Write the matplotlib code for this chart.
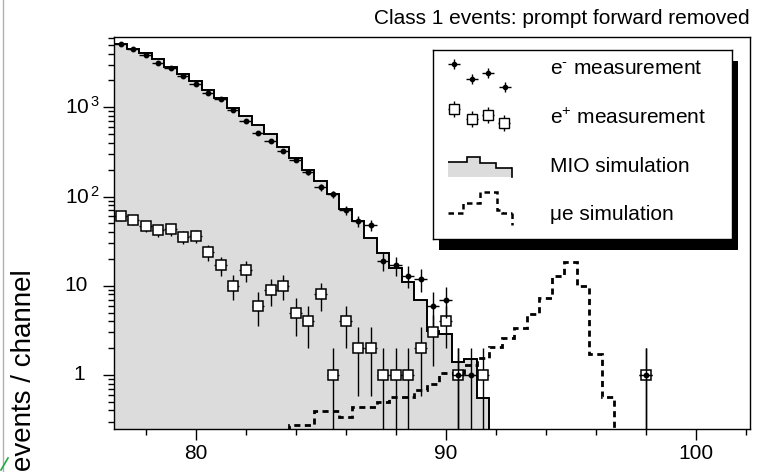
import numpy as np
import matplotlib
matplotlib.use('Agg')
import matplotlib.pyplot as plt
from matplotlib.transforms import ScaledTranslation, blended_transform_factory
from matplotlib.patches import Rectangle
from matplotlib.lines import Line2D
from matplotlib.ticker import FixedLocator, MultipleLocator, LogLocator, NullFormatter

plt.rcParams['font.family'] = ['Liberation Sans', 'DejaVu Sans']
plt.rcParams['mathtext.fontset'] = 'custom'
plt.rcParams['mathtext.rm'] = 'Liberation Sans'
plt.rcParams['mathtext.it'] = 'Liberation Sans:italic'
plt.rcParams['mathtext.bf'] = 'Liberation Sans:bold'

# ---------------- data ----------------
BIN = 0.5
mio_centers = [77.0, 77.5, 78.0, 78.5, 79.0, 79.5, 80.0, 80.5, 81.0, 81.5,
               82.0, 82.5, 83.0, 83.5, 84.0, 84.5, 85.0, 85.5, 86.0, 86.5,
               87.0, 87.5, 88.0, 88.5, 89.0, 89.5, 90.0, 90.5, 91.0, 91.5]
mio_counts = [5090, 4550, 4110, 3460, 2810, 2350, 1960, 1580, 1270, 984,
              801, 631, 496, 360, 272, 198, 149, 108, 72, 53,
              34, 23.4, 16, 11.1, 6.9, 3.1, 2.9, 1.4, 1.5, 0.55]

em_x = [77.0, 77.5, 78.0, 78.5, 79.0, 79.5, 80.0, 80.5, 81.0, 81.5,
        82.0, 82.5, 83.0, 83.5, 84.0, 84.5, 85.0, 85.5, 86.0, 86.5,
        87.0, 87.5, 88.0, 88.5, 89.0, 89.5, 90.0, 90.5, 91.0, 98.0]
em_counts = [5090, 4500, 3850, 3120, 2750, 2220, 1830, 1460, 1230, 945,
             695, 518, 424, 322, 260, 189, 128, 106, 70, 53,
             48, 19, 17, 13, 12, 6, 7, 1, 1, 1]

ep_x = [77.0, 77.5, 78.0, 78.5, 79.0, 79.5, 80.0, 80.5, 81.0, 81.5,
        82.0, 82.5, 83.0, 83.5, 84.0, 84.5, 85.0, 85.5, 86.0, 86.5,
        87.0, 87.5, 88.0, 88.5, 89.0, 89.5, 90.0, 90.5, 91.5, 98.0]
ep_counts = [61, 55, 47, 42, 43, 35, 36, 24, 17, 10,
             15, 6, 9, 10, 5, 4, 8, 1, 4, 2,
             2, 1, 1, 1, 2, 3, 4, 1, 1, 1]

mue_centers = [84.0, 84.5, 85.0, 85.5, 86.0, 86.5, 87.0, 87.5, 88.0, 88.5,
               89.0, 89.5, 90.0, 90.5, 91.0, 91.5, 92.0, 92.5, 93.0, 93.5,
               94.0, 94.5, 95.0, 95.5, 96.0, 96.5]
mue_values = [0.275, 0.275, 0.395, 0.395, 0.34, 0.44, 0.44, 0.50, 0.57, 0.57,
              0.68, 0.80, 1.04, 1.04, 1.29, 1.54, 2.07, 2.61, 3.39, 4.8,
              7.2, 12.7, 18.7, 9.9, 1.72, 0.56]

x_ticks = [80, 90, 100]
y_ticks = [1, 10, 100, 1000]
y_ticklabels = ['1', '10', r'$10^{\,2}$', r'$10^{\,3}$']
title = 'Class 1 events: prompt forward removed'
ylabel = 'events / channel'
legend_labels = [r'e$^{\text{-}}$ measurement', r'e$^{+}$ measurement',
                 'MIO simulation', '\u03bce simulation']

# ---------------- figure ----------------
W, H = 764, 472
AX_L, AX_B, AX_W, AX_H = 114, 43, 636, 392
fig = plt.figure(figsize=(W / 100, H / 100), dpi=100)
ax = fig.add_axes([AX_L / W, AX_B / H, AX_W / W, AX_H / H])
ax.set_yscale('log')
ax.set_xlim(76.74, 102.18)
ax.set_ylim(0.248, 6140)

def edges_of(c):
    c = np.asarray(c, dtype=float)
    return np.append(c - BIN / 2, c[-1] + BIN / 2)

FILL = '#dcdcdc'
ax.stairs(mio_counts, edges_of(mio_centers), baseline=1e-3, fill=True,
          color=FILL, zorder=1)
ax.stairs(mio_counts, edges_of(mio_centers), baseline=1e-3, fill=False,
          color='black', lw=1.4, zorder=2)
ax.stairs(mue_values, edges_of(mue_centers), baseline=1e-3, fill=False,
          color='black', lw=2.0, linestyle=(0, (2.2, 1.6)), zorder=2)

def poisson_err(n):
    n = np.asarray(n, dtype=float)
    s = np.sqrt(n)
    lo = np.minimum(s, n - 1e-4)
    return [lo, s]

ax.errorbar(ep_x, ep_counts, yerr=poisson_err(ep_counts), xerr=BIN / 2,
            fmt='s', ms=7.2, mfc='white', mec='black', mew=1.1,
            ecolor='black', elinewidth=1.0, capsize=0, zorder=3)
ax.errorbar(em_x, em_counts, yerr=poisson_err(em_counts), xerr=BIN / 2,
            fmt='o', ms=3.2, mfc='black', mec='black',
            ecolor='black', elinewidth=1.0, capsize=0, zorder=4)

# axes styling
for s in ax.spines.values():
    s.set_linewidth(1.0)
ax.xaxis.set_major_locator(FixedLocator(x_ticks))
ax.xaxis.set_minor_locator(MultipleLocator(2))
ax.yaxis.set_major_locator(FixedLocator(y_ticks))
ax.yaxis.set_minor_locator(LogLocator(base=10, subs=np.arange(2, 10)))
ax.yaxis.set_major_formatter(NullFormatter())
ax.yaxis.set_minor_formatter(NullFormatter())
ax.tick_params(which='major', direction='out', length=8, width=1.0,
               labelsize=15, pad=3, top=False, right=False)
ax.tick_params(which='minor', direction='out', length=4, width=1.0,
               top=False, right=False)
ax.set_xticklabels([str(t) for t in x_ticks])

ytrans = blended_transform_factory(ax.transAxes, ax.transData)
label_offsets_px = [29, 26, 14, 14]
for v, lab, off in zip(y_ticks, y_ticklabels, label_offsets_px):
    ax.text(-off / AX_W, v, lab, fontsize=15, ha='right', va='center',
            transform=ytrans, clip_on=False)

fig.text(750 / W, 1 - 19 / H, title, fontsize=15, ha='right', va='center')
fig.text(24 / W, 1 / H, ylabel, fontsize=20, rotation=90,
         ha='center', va='bottom')

# ---------------- legend ----------------
bx0, by0, bw, bh = 432.7, 50.0, 299.0, 189.3   # pixel box (from top-left)
lrect = [(bx0 - AX_L) / AX_W, (429 - (by0 + bh)) / AX_H, bw / AX_W, bh / AX_H]
shadow = Rectangle((lrect[0] + 6.5 / AX_W, lrect[1] - 10.5 / AX_H), lrect[2], lrect[3],
                   facecolor='black', edgecolor='none', zorder=4.9,
                   transform=ax.transAxes)
ax.add_patch(shadow)
lax = ax.inset_axes(lrect, zorder=5)
lax.set_facecolor('white')
lax.set_xlim(0, bw)
lax.set_ylim(bh, 0)
lax.set_xticks([])
lax.set_yticks([])
for s in lax.spines.values():
    s.set_linewidth(1.0)

# e- glyph
lax.errorbar([21.6, 39, 55, 72.3], [14.3, 29.3, 22.7, 36.7], xerr=6, yerr=5,
             fmt='o', ms=3, color='black', elinewidth=1.0, capsize=0)
# e+ glyph
lax.errorbar([21.6, 39, 55.6, 71.6], [59, 69.3, 65, 72.7], xerr=6, yerr=8,
             fmt='s', ms=6.5, mfc='white', mec='black', mew=1.0,
             ecolor='black', elinewidth=1.0, capsize=0)
# MIO glyph
mio_leg_edges = [15.6, 34, 47.3, 63.3, 79]
mio_leg_vals = [112.3, 107.3, 113.3, 118.3]
lax.stairs(mio_leg_vals, mio_leg_edges, baseline=126.7, fill=True, color=FILL)
lax.stairs(mio_leg_vals, mio_leg_edges, baseline=None, color='black', lw=1.2)
lax.plot([79, 79], [118.3, 126.7], color='black', lw=1.2)
# mu-e glyph
mue_leg_edges = [15.6, 30.6, 47.3, 64, 69, 79]
mue_leg_vals = [162.5, 153.3, 142.3, 160, 163.3]
lax.stairs(mue_leg_vals, mue_leg_edges, baseline=None, color='black', lw=1.8,
           linestyle=(0, (2.2, 1.6)))
lax.plot([79, 79], [163.3, 175], color='black', lw=1.8, linestyle=(0, (2.2, 1.6)))

for lab, yy in zip(legend_labels, [18.3, 68.3, 116.7, 165]):
    lax.text(117.3, yy, lab, fontsize=15, ha='left', va='center')

# page artefacts
fig.add_artist(Line2D([3 / W, 3 / W], [0, 1], color='#b0b0b0', lw=1.0))
fig.add_artist(Line2D([1 / W, 8 / W], [2 / H, 14 / H], color='#22aa44', lw=1.2))

fig.savefig('out.png', dpi=100)
